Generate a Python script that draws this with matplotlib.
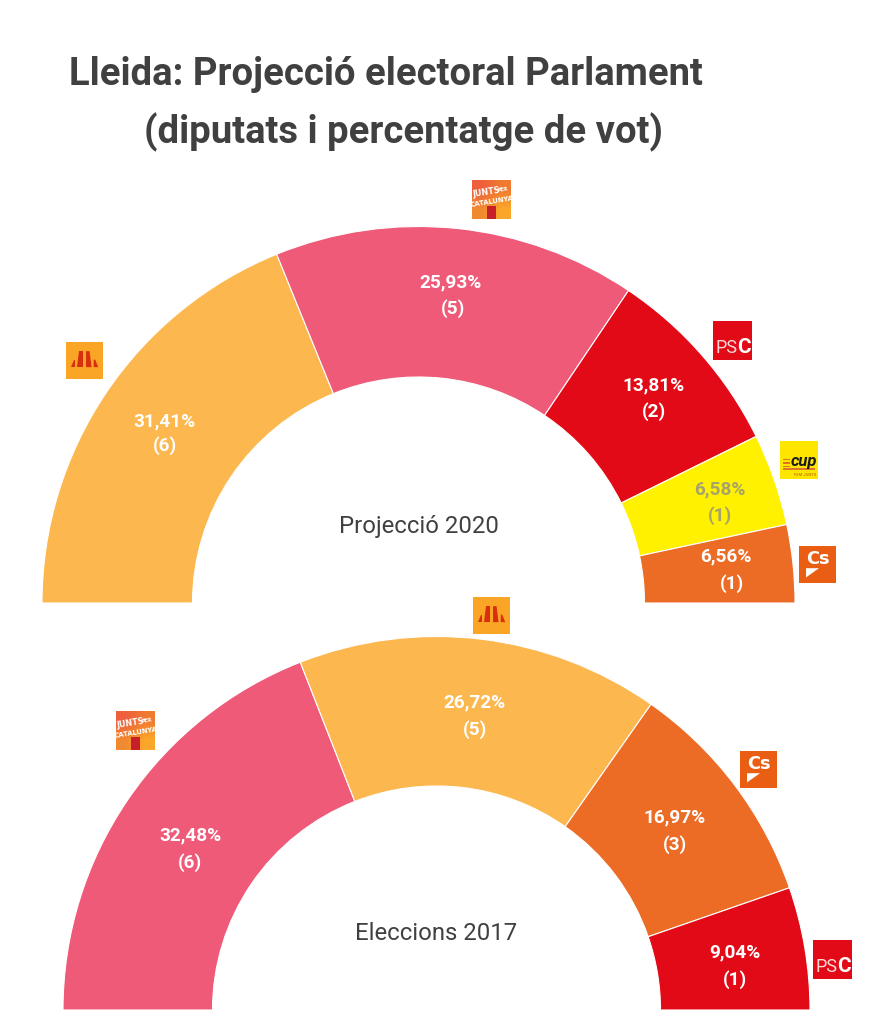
import numpy as np
import matplotlib
matplotlib.use("Agg")
import matplotlib.pyplot as plt
from matplotlib.colors import to_rgb
from matplotlib.patches import Wedge, Rectangle, Polygon

W, H = 875, 1029

plt.rcParams['font.family'] = ['Roboto', 'DejaVu Sans']

# party colours
ERC = "#FDB74F"
JUNTS = "#EE5A78"
PSC = "#E20A16"
CUP = "#FFF100"
CS = "#EC6C26"

# 2020 projection
parties_2020 = ["ERC", "Junts", "PSC", "CUP", "Cs"]
votes_2020 = [31.41, 25.93, 13.81, 6.58, 6.56]
seats_2020 = [6, 5, 2, 1, 1]
colors_2020 = [ERC, JUNTS, PSC, CUP, CS]

# 2017 election
parties_2017 = ["Junts", "ERC", "Cs", "PSC"]
votes_2017 = [32.48, 26.72, 16.97, 9.04]
seats_2017 = [6, 5, 3, 1]
colors_2017 = [JUNTS, ERC, CS, PSC]

fig = plt.figure(figsize=(W / 100, H / 100), dpi=100)
ax = fig.add_axes([0, 0, 1, 1])


# everything below is placed in image pixels, y measured from the top
def yy(py):
    return H - py


def txt(x, y, s, **kw):
    kw.setdefault("ha", "center")
    kw.setdefault("va", "center")
    ax.text(x, yy(y), s, **kw)


def hemicycle(cx, base, r_out, r_in, votes, colors, full=None):
    # full = percentage that spans the half circle; the original runs past it
    # on the 2020 chart, so the last slice is cut by the baseline
    total = full if full else sum(votes)
    start = 180.0
    for v, c in zip(votes, colors):
        end = max(start - v / total * 180.0, 0.0)
        ax.add_patch(Wedge((cx, yy(base)), r_out, end, start, width=r_out - r_in,
                           facecolor=c, edgecolor="white", lw=0.8))
        start = end
    # seam strokes would show on the flat ends, cover them
    ax.add_patch(Rectangle((cx - r_out - 3, yy(base) - 3), 2 * r_out + 6, 3,
                           facecolor="white", edgecolor="none", zorder=2))


def labels(votes, seats, pos_pct, pos_seat, dark=None):
    for i, (v, s) in enumerate(zip(votes, seats)):
        col = "#A5A36C" if dark == i else "white"
        pct = f"{v:.2f}".replace(".", ",") + "%"
        txt(*pos_pct[i], pct, color=col, fontsize=13.7, fontweight="bold", zorder=5)
        txt(*pos_seat[i], f"({s})", color=col, fontsize=13.7, fontweight="bold", zorder=5)


def box(x0, y0, x1, y1, color):
    ax.add_patch(Rectangle((x0, yy(y1)), x1 - x0, y1 - y0, facecolor=color,
                           edgecolor="none", zorder=3))


def logo_erc(x0, y0, size=37):
    box(x0, y0, x0 + size, y0 + size, "#FBA527")
    cx, by = x0 + size / 2, y0 + size * 0.68
    # four bars leaning to the middle, (offset, width, height, top width)
    for dx, w, h, tw in [(-11.5, 4.5, 7.5, 1.5), (-4.3, 5.5, 16, 3.5), (4.3, 5.5, 16, 3.5), (11.5, 4.5, 7.5, 1.5)]:
        lean = w / 2 - tw / 2
        tx = cx + dx + (lean if dx < 0 else -lean)
        ax.add_patch(Polygon([(cx + dx - w / 2, yy(by)), (cx + dx + w / 2, yy(by)),
                              (tx + tw / 2, yy(by - h)), (tx - tw / 2, yy(by - h))],
                             facecolor="#D8300F", edgecolor="none", zorder=4))


def logo_junts(x0, y0, size=39):
    grad = np.array([[to_rgb("#EE5F3C"), to_rgb("#F07A30")],
                     [to_rgb("#F08A30"), to_rgb("#FBA82A")]])
    ax.imshow(grad, extent=(x0, x0 + size, yy(y0 + size), yy(y0)), interpolation="bilinear",
              aspect="auto", zorder=3)
    box(x0 + size * 0.39, y0 + size * 0.67, x0 + size * 0.61, y0 + size, "#C8202A")
    narrow = "Liberation Sans Narrow"
    ax.text(x0 + size * 0.38, yy(y0 + size * 0.33), "JUNTS", color="white", fontsize=5.8,
            family=narrow, fontweight="bold", ha="center", va="center", rotation=9, zorder=5)
    ax.text(x0 + size * 0.79, yy(y0 + size * 0.26), "PER", color="white", fontsize=3.6,
            family=narrow, fontweight="bold", ha="center", va="center", rotation=9, zorder=5)
    ax.text(x0 + size * 0.5, yy(y0 + size * 0.56), "CATALUNYA", color="white", fontsize=4.9,
            family=narrow, fontweight="bold", ha="center", va="center", rotation=9, zorder=5)


def logo_psc(x0, y0, size=39):
    box(x0, y0, x0 + size, y0 + size, PSC)
    ax.text(x0 + size * 0.06, yy(y0 + size * 0.70), "PS", color="#FBD9D9", fontsize=13,
            ha="left", va="center", zorder=5)
    ax.text(x0 + size * 0.615, yy(y0 + size * 0.69), "C", color="white", fontsize=15,
            ha="left", va="center", fontweight="bold", zorder=5)


def logo_cup(x0, y0, size=38):
    box(x0, y0, x0 + size, y0 + size, "#FFE600")
    ax.text(x0 + size * 0.62, yy(y0 + size * 0.54), "cup", color="#1A1A1A", fontsize=12,
            fontweight="bold", style="italic", ha="center", va="center", zorder=5)
    for dy in (0.47, 0.56, 0.65):
        box(x0 + 3, y0 + size * dy, x0 + size * 0.26, y0 + size * dy + 1.6, "#E2701C")
    box(x0 + 3, y0 + size * 0.72, x0 + size - 3, y0 + size * 0.75, "#D9742A")
    ax.text(x0 + size * 0.66, yy(y0 + size * 0.89), "FEM JUNTS", color="#C8860A", fontsize=3,
            fontweight="bold", ha="center", va="center", zorder=5)


def logo_cs(x0, y0, size=37):
    box(x0, y0, x0 + size, y0 + size, "#E95E12")
    ax.text(x0 + size * 0.50, yy(y0 + size * 0.35), "Cs", color="white", fontsize=12.8,
            family="DejaVu Sans", fontweight="bold", ha="center", va="center", zorder=5)
    ax.add_patch(Polygon([(x0 + size * 0.19, yy(y0 + size * 0.60)),
                          (x0 + size * 0.54, yy(y0 + size * 0.60)),
                          (x0 + size * 0.19, yy(y0 + size * 0.85))],
                         facecolor="white", edgecolor="none", zorder=5))


# title
txt(385.5, 74.5, "Lleida: Projecció electoral Parlament", color="#404040", fontsize=27.5, fontweight="bold")
txt(404, 132.5, "(diputats i percentatge de vot)", color="#404040", fontsize=27.5, fontweight="bold")

# top hemicycle
hemicycle(418.5, 603, 376.5, 226, votes_2020, colors_2020, full=83.3)
labels(votes_2020, seats_2020,
       [(165, 421), (451, 282), (654, 385), (720, 489), (726, 556)],
       [(165, 446), (453, 309), (654, 412), (720, 516), (732, 584)], dark=3)
txt(418.5, 526.5, "Projecció 2020", color="#404040", fontsize=17.2)

logo_junts(472, 180)
logo_erc(66, 342)
logo_psc(713, 321)
logo_cup(780, 441)
logo_cs(799, 546)

# bottom hemicycle
hemicycle(436.5, 1010, 373.5, 224, votes_2017, colors_2017)
labels(votes_2017, seats_2017,
       [(190, 835), (475, 702), (675, 817), (735, 952)],
       [(190, 863), (475, 730), (675, 845), (735, 980)])
txt(436.5, 933.5, "Eleccions 2017", color="#404040", fontsize=17.2)

logo_erc(473, 597)
logo_junts(116, 711)
logo_cs(740, 751)
logo_psc(813, 940)

ax.set_xlim(0, W)
ax.set_ylim(0, H)
ax.axis("off")

fig.savefig("out.png", dpi=100, facecolor="white")
